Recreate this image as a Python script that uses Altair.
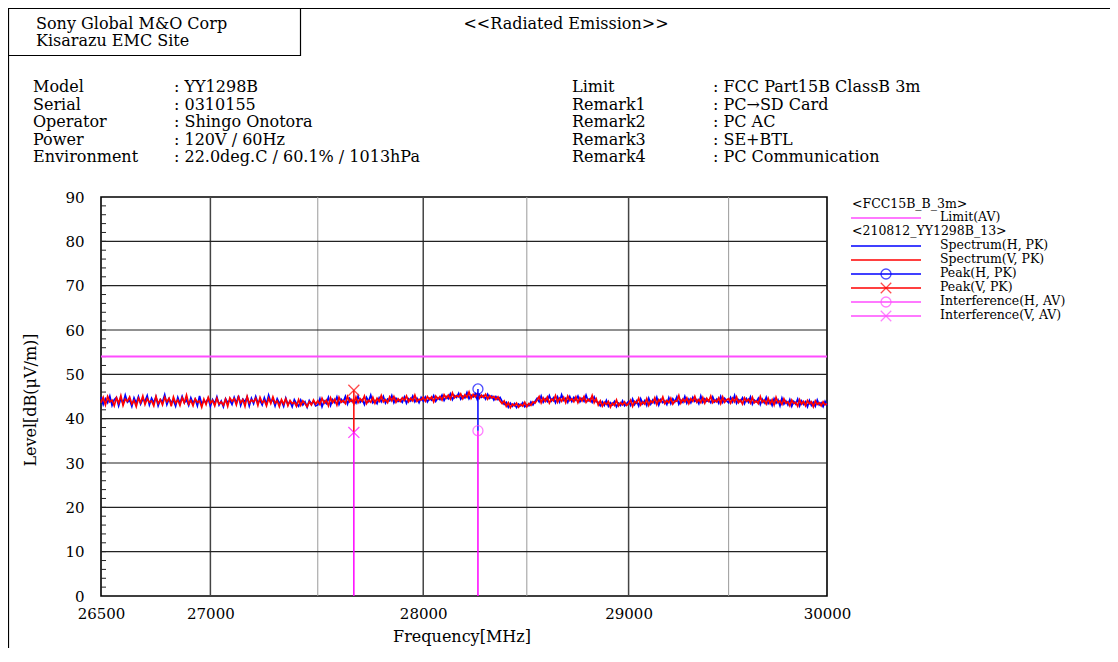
import altair as alt
import pandas as pd

SERIF = "DejaVu Serif"

# ---------------- data ----------------
F_START, F_STOP, F_STEP = 26500, 30000, 10
freq = list(range(F_START, F_STOP + 1, F_STEP))

spec_h = [
    # 26500-27490
    44.9, 43.2, 44.5, 43.6, 45.1, 43.0, 44.3, 44.8, 42.9, 44.6,
    43.4, 45.3, 43.7, 44.2, 42.8, 44.7, 43.5, 45.0, 43.3, 44.4,
    43.9, 45.2, 43.1, 44.6, 43.6, 44.9, 42.9, 44.3, 43.8, 45.4,
    43.2, 44.5, 43.7, 44.1, 42.8, 44.8, 43.4, 45.0, 43.6, 44.2,
    43.0, 44.7, 43.5, 44.4, 42.9, 45.1, 43.3, 44.0, 43.7, 44.6,
    42.8, 44.3, 43.4, 44.9, 43.1, 44.0, 42.7, 44.5, 43.6, 44.2,
    43.2, 44.8, 43.5, 45.2, 43.0, 44.4, 43.8, 44.9, 42.9, 44.6,
    43.4, 45.0, 43.6, 44.1, 43.1, 44.7, 43.3, 45.3, 43.7, 44.4,
    42.9, 44.5, 43.5, 44.0, 42.8, 44.6, 43.2, 43.9, 42.7, 44.3,
    43.4, 42.8, 44.2, 43.1, 43.8, 42.6, 44.1, 43.3, 43.9, 42.9,
    # 27500-27990
    43.1, 44.5, 42.7, 44.0, 43.4, 44.8, 43.0, 44.3, 43.6, 44.9,
    43.2, 44.4, 43.8, 45.0, 43.3, 44.6, 43.9, 44.2, 43.5, 45.1,
    43.7, 44.3, 43.2, 44.8, 43.9, 45.3, 43.6, 44.1, 43.4, 44.7,
    43.8, 45.0, 43.5, 44.4, 44.0, 45.2, 43.6, 44.6, 43.9, 44.3,
    43.7, 44.9, 43.5, 44.5, 44.0, 45.1, 43.8, 44.6, 43.6, 44.8,
    # 28000-28370
    44.0, 44.9, 43.8, 44.6, 44.2, 45.2, 43.9, 44.7, 44.3, 45.3,
    44.1, 45.0, 44.5, 45.6, 44.3, 45.2, 44.8, 45.7, 44.4, 45.1,
    44.7, 45.9, 44.5, 45.3, 44.9, 45.6, 44.3, 45.4, 44.8, 45.2,
    44.4, 45.5, 44.6, 45.1, 44.2, 45.0, 44.3, 44.8,
    # 28380-28540
    43.9, 43.2, 43.7, 42.6, 43.5, 42.8, 43.4, 42.5, 43.3, 42.9,
    43.6, 42.7, 43.2, 42.9, 43.8, 43.1, 43.9,
    # 28550-28840
    44.6, 43.8, 45.1, 43.7, 44.5, 43.9, 45.2, 44.0, 44.7, 43.6,
    44.9, 43.8, 45.4, 44.1, 44.6, 43.7, 45.0, 43.9, 44.8, 44.2,
    45.1, 43.8, 44.6, 43.9, 45.3, 44.0, 44.5, 43.7, 44.9, 43.8,
    # 28850-28990
    43.7, 42.9, 43.8, 43.0, 44.1, 42.8, 43.6, 43.1, 43.9, 42.7,
    43.5, 43.0, 44.0, 42.9, 43.4,
    # 29000-30000
    43.9, 43.0, 44.4, 43.2, 44.0, 42.9, 44.5, 43.4, 44.1, 43.0,
    44.6, 43.3, 44.2, 43.5, 44.8, 43.1, 44.3, 43.6, 44.0, 43.2,
    44.7, 43.4, 44.5, 43.8, 44.9, 43.3, 44.2, 43.7, 45.0, 43.5,
    44.4, 43.6, 44.8, 43.9, 44.3, 43.4, 45.1, 43.7, 44.5, 43.9,
    44.2, 43.6, 44.9, 43.8, 44.4, 43.5, 45.0, 43.7, 44.6, 44.0,
    43.6, 44.8, 43.8, 45.2, 43.5, 44.3, 43.9, 44.7, 43.4, 44.5,
    43.7, 44.9, 43.3, 44.2, 43.8, 44.6, 43.2, 44.4, 43.6, 44.8,
    43.4, 44.1, 43.0, 44.5, 43.5, 44.2, 42.9, 44.6, 43.3, 44.0,
    43.1, 44.3, 42.8, 43.9, 43.3, 44.4, 42.9, 44.0, 43.2, 43.8,
    42.7, 44.1, 43.0, 43.7, 42.8, 44.2, 43.1, 43.6, 42.7, 43.9,
    43.0,
]
spec_v = [
    # 26500-27490
    43.6, 44.8, 43.1, 45.0, 43.8, 44.2, 42.9, 44.7, 43.5, 45.2,
    43.0, 44.4, 43.9, 44.9, 43.3, 44.1, 42.7, 44.6, 43.6, 45.1,
    43.2, 44.5, 43.7, 44.0, 42.9, 45.0, 43.4, 44.3, 43.1, 44.8,
    43.8, 44.6, 42.8, 44.9, 43.5, 44.2, 43.0, 44.7, 43.6, 45.3,
    43.3, 44.1, 42.9, 44.5, 43.7, 44.0, 42.6, 44.4, 43.2, 44.8,
    43.5, 44.1, 42.9, 44.6, 43.3, 43.8, 43.0, 44.4, 42.8, 44.7,
    43.9, 44.5, 43.1, 44.9, 43.6, 44.3, 42.8, 45.0, 43.5, 44.2,
    43.8, 44.6, 43.0, 44.8, 43.6, 44.1, 42.9, 44.6, 43.4, 44.9,
    43.5, 44.0, 42.7, 44.3, 43.3, 44.5, 42.9, 44.1, 43.4, 43.7,
    42.8, 44.3, 43.0, 44.0, 43.4, 42.7, 43.8, 43.1, 44.2, 43.3,
    # 27500-27990
    44.0, 43.2, 44.6, 43.5, 44.2, 42.9, 44.7, 43.6, 44.4, 43.1,
    44.8, 43.7, 44.1, 43.4, 45.0, 43.8, 44.3, 43.3, 44.9, 43.6,
    44.5, 43.9, 45.1, 43.4, 44.2, 43.7, 44.8, 43.5, 44.6, 43.9,
    45.2, 43.8, 44.3, 43.6, 44.9, 44.0, 45.0, 43.7, 44.5, 43.9,
    44.7, 44.1, 45.1, 43.8, 44.6, 44.0, 45.3, 43.9, 44.4, 44.2,
    # 28000-28370
    44.8, 43.9, 45.0, 44.3, 44.9, 43.8, 45.1, 44.4, 45.0, 44.2,
    45.4, 44.6, 45.3, 44.4, 45.8, 44.7, 45.2, 44.9, 45.6, 44.5,
    45.4, 44.8, 46.0, 44.6, 45.5, 44.9, 45.7, 44.6, 45.3, 44.8,
    45.5, 44.4, 45.2, 44.7, 45.0, 44.3, 44.9, 44.0,
    # 28380-28540
    43.4, 44.0, 42.8, 43.6, 42.5, 43.3, 42.9, 43.5, 42.6, 43.2,
    42.8, 43.7, 42.7, 43.4, 43.0, 43.8, 43.5,
    # 28550-28840
    44.2, 45.0, 43.6, 44.7, 43.9, 44.9, 43.5, 44.4, 44.0, 45.2,
    43.7, 44.6, 43.9, 44.8, 43.6, 45.1, 44.1, 44.5, 43.8, 44.9,
    43.6, 44.7, 44.0, 45.0, 43.7, 44.4, 43.9, 45.2, 43.6, 44.5,
    # 28850-28990
    43.1, 44.0, 42.8, 43.7, 43.2, 43.9, 42.6, 43.5, 43.0, 44.2,
    42.9, 43.6, 43.1, 43.8, 43.0,
    # 29000-30000
    43.4, 44.2, 42.8, 43.9, 43.5, 44.6, 43.1, 43.8, 43.3, 44.5,
    43.0, 44.0, 43.6, 44.7, 43.2, 44.3, 43.8, 44.9, 43.4, 44.1,
    43.6, 44.6, 43.3, 44.0, 43.9, 45.2, 43.5, 44.4, 43.8, 44.7,
    43.4, 44.5, 43.9, 45.0, 43.7, 44.3, 43.6, 44.8, 43.5, 44.6,
    43.9, 45.1, 43.6, 44.2, 43.8, 44.7, 43.4, 44.9, 43.7, 44.3,
    44.5, 43.5, 44.6, 43.8, 44.9, 43.6, 44.2, 43.3, 44.7, 43.9,
    44.4, 43.5, 44.8, 43.6, 44.0, 43.4, 45.0, 43.7, 44.2, 43.3,
    44.6, 43.4, 44.3, 43.1, 44.8, 43.6, 44.0, 43.2, 44.5, 43.5,
    43.8, 42.9, 44.2, 43.4, 43.7, 42.8, 44.3, 43.3, 43.9, 42.9,
    44.1, 43.4, 43.8, 42.7, 44.0, 43.2, 43.6, 42.9, 43.8, 43.1,
    43.4,
]
assert len(spec_h) == len(freq), (len(spec_h), len(freq))
assert len(spec_v) == len(freq), (len(spec_v), len(freq))

limit_av = [54.0]

marker_pol = ["V", "H"]
marker_freq = [27670, 28263]
peak_level = [46.4, 46.7]
interf_level = [36.9, 37.3]

x_tick_values = [26500, 27000, 28000, 29000, 30000]
y_tick_values = list(range(0, 91, 10))
grid_major_x = [27000, 28000, 29000]
grid_minor_x = [27500, 28500, 29500]
grid_y = list(range(10, 90, 10))
minor_y = list(range(2, 90, 2))

header_left = ["Sony Global M&O Corp", "Kisarazu EMC Site"]
header_title = "<<Radiated Emission>>"
info_left_labels = ["Model", "Serial", "Operator", "Power", "Environment"]
info_left_values = [": YY1298B", ": 0310155", ": Shingo Onotora", ": 120V / 60Hz",
                    ": 22.0deg.C / 60.1% / 1013hPa"]
info_right_labels = ["Limit", "Remark1", "Remark2", "Remark3", "Remark4"]
info_right_values = [": FCC Part15B ClassB 3m", ": PC\u2192SD Card", ": PC AC", ": SE+BTL",
                     ": PC Communication"]
x_title = "Frequency[MHz]"
y_title = "Level[dB(\u03bcV/m)]"

legend_headers = ["<FCC15B_B_3m>", "<210812_YY1298B_13>"]
legend_labels = ["Limit(AV)", "Spectrum(H, PK)", "Spectrum(V, PK)", "Peak(H, PK)",
                 "Peak(V, PK)", "Interference(H, AV)", "Interference(V, AV)"]

# ---------------- styles ----------------
BLUE = "#0000ff"
RED = "#ff0000"
PINK = "#ff4cff"
MAGENTA = "#ff00ff"
XPATH = "M-1,-1L1,1M-1,1L1,-1"

W, H = 726, 399
PAD_L, PAD_T = 93, 189
TOTAL_W, TOTAL_H = 1102, 640

spec_df = pd.DataFrame({"freq": freq, "h": spec_h, "v": spec_v})
mk_df = pd.DataFrame({"pol": marker_pol, "freq": marker_freq,
                      "peak": peak_level, "interf": interf_level})
one = pd.DataFrame({"k": [0]})

xs = alt.Scale(type="log", domain=[F_START, F_STOP], nice=False)
ys = alt.Scale(domain=[0, 90], nice=False, zero=True)
xax = alt.Axis(values=x_tick_values, title=None, grid=False, ticks=False, tickSize=0,
               domain=False, labelPadding=10, labelFont=SERIF, labelFontSize=15,
               labelColor="black", format="d", labelFlush=False, labelOverlap=False)
yax = alt.Axis(values=y_tick_values, title=None, grid=False, ticks=False, tickSize=0,
               domain=False, labelPadding=17, labelFont=SERIF, labelFontSize=15,
               labelColor="black", format="d")


def X(f):
    return alt.X(f, type="quantitative", scale=xs, axis=xax)


def Y(f):
    return alt.Y(f, type="quantitative", scale=ys, axis=yax)


layers = []

# grid
layers.append(alt.Chart(pd.DataFrame({"g": grid_minor_x})).mark_rule(
    color="#9a9a9a", strokeWidth=1).encode(x=X("g")))
layers.append(alt.Chart(pd.DataFrame({"g": grid_major_x})).mark_rule(
    color="#444444", strokeWidth=1.5).encode(x=X("g")))
layers.append(alt.Chart(pd.DataFrame({"g": grid_y})).mark_rule(
    color="#222222", strokeWidth=1.2).encode(y=Y("g")))
layers.append(alt.Chart(pd.DataFrame({"g": minor_y})).mark_rule(
    color="#222222", strokeWidth=1).encode(y=Y("g"), x=alt.value(0), x2=alt.value(5)))

# limit
layers.append(alt.Chart(pd.DataFrame({"lim": limit_av})).mark_rule(
    color=PINK, strokeWidth=2).encode(y=Y("lim")))

# spectra
layers.append(alt.Chart(spec_df).mark_line(color=BLUE, strokeWidth=1.7).encode(
    x=X("freq"), y=Y("h")))
layers.append(alt.Chart(spec_df).mark_line(color=RED, strokeWidth=1.7).encode(
    x=X("freq"), y=Y("v")))

# interference stems (0 -> interference level)
layers.append(alt.Chart(mk_df).mark_rule(color=MAGENTA, strokeWidth=1.5).encode(
    x=X("freq"), y=Y("interf"), y2=alt.datum(0)))
# peak stems
for pol, col in (("V", RED), ("H", BLUE)):
    sub = mk_df[mk_df["pol"] == pol]
    layers.append(alt.Chart(sub).mark_rule(color=col, strokeWidth=1.5).encode(
        x=X("freq"), y=Y("interf"), y2=alt.Y2("peak")))

# markers
mkV = mk_df[mk_df["pol"] == "V"]
mkH = mk_df[mk_df["pol"] == "H"]
layers.append(alt.Chart(mkV).mark_point(shape=XPATH, size=120, color=RED, strokeWidth=1.3,
                                        filled=False).encode(x=X("freq"), y=Y("peak")))
layers.append(alt.Chart(mkV).mark_point(shape=XPATH, size=120, color=MAGENTA, strokeWidth=1.3,
                                        filled=False).encode(x=X("freq"), y=Y("interf")))
layers.append(alt.Chart(mkH).mark_point(shape="circle", size=100, color=BLUE, strokeWidth=1.3,
                                        filled=False).encode(x=X("freq"), y=Y("peak")))
layers.append(alt.Chart(mkH).mark_point(shape="circle", size=100, color=PINK, strokeWidth=1.3,
                                        filled=False).encode(x=X("freq"), y=Y("interf")))


# ---------------- page decoration (pixel layout relative to plot origin) ----------------
def txt(s, x, y, size=16, align="left", angle=0):
    kw = dict(font=SERIF, fontSize=size, align=align, baseline="middle", color="black")
    if angle:
        kw["angle"] = angle
    return alt.Chart(one).mark_text(**kw).encode(
        x=alt.value(x), y=alt.value(y), text=alt.value(s))


def line(x1, x2, y1, y2, col="black", w=1.2):
    return alt.Chart(one).mark_rule(color=col, strokeWidth=w).encode(
        x=alt.value(x1), x2=alt.value(x2), y=alt.value(y1), y2=alt.value(y2))


# outer frame and header box
layers.append(line(-PAD_L + 0.5, TOTAL_W - PAD_L, -PAD_T + 0.5, -PAD_T + 0.5))
layers.append(line(-PAD_L + 0.5, -PAD_L + 0.5, -PAD_T, TOTAL_H - PAD_T))
layers.append(line(199.5, 199.5, -PAD_T, -141))
layers.append(line(-PAD_L, 199.5, -141.5, -141.5))

layers.append(txt(header_left[0], -65, -173))
layers.append(txt(header_left[1], -65, -156))
layers.append(txt(header_title, 465, -173, align="center"))

row_y = [-110, -92.5, -75, -57.5, -40]
for i in range(5):
    layers.append(txt(info_left_labels[i], -68, row_y[i]))
    layers.append(txt(info_left_values[i], 73, row_y[i]))
    layers.append(txt(info_right_labels[i], 471, row_y[i]))
    layers.append(txt(info_right_values[i], 612, row_y[i]))

# axis titles
layers.append(txt(x_title, 361, 440, align="center"))
layers.append(txt(y_title, -70, 203, align="center", angle=270))

# custom legend
LX1, LX2, LMX, LTX = 750, 820, 785, 839
LFS = 12.5
layers.append(txt(legend_headers[0], 751, 7, size=LFS))
layers.append(txt(legend_headers[1], 751, 34, size=LFS))
leg_rows = [21, 49, 63, 77, 91, 105, 119]
leg_cols = [PINK, BLUE, RED, BLUE, RED, PINK, PINK]
leg_marks = [None, None, None, "circle", XPATH, "circle", XPATH]
for i in range(7):
    layers.append(line(LX1, LX2, leg_rows[i], leg_rows[i], col=leg_cols[i], w=1.5))
    layers.append(txt(legend_labels[i], LTX, leg_rows[i] - 1.5, size=LFS))
    if leg_marks[i]:
        layers.append(alt.Chart(one).mark_point(
            shape=leg_marks[i], size=100 if leg_marks[i] == "circle" else 110,
            color=leg_cols[i], strokeWidth=1.3, filled=False).encode(
            x=alt.value(LMX), y=alt.value(leg_rows[i])))

chart = alt.layer(*layers).properties(
    width=W, height=H,
    autosize=alt.AutoSizeParams(type="none"),
    padding={"left": PAD_L, "top": PAD_T, "right": TOTAL_W - PAD_L - W,
             "bottom": TOTAL_H - PAD_T - H},
    background="white",
).configure_view(stroke="black", strokeWidth=1.6)

chart.save("out.html", embed_options={"renderer": "svg", "actions": False})
